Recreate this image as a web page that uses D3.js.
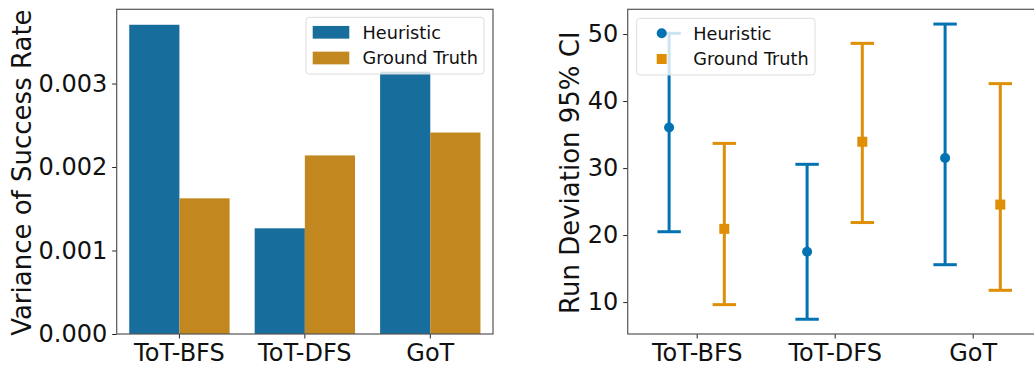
<!DOCTYPE html>
<html>
<head>
<meta charset="utf-8">
<script src="https://cdn.jsdelivr.net/npm/d3@7"></script>
<style>
  html, body { margin: 0; padding: 0; background: #fff; }
  svg { display: block; font-family: "DejaVu Sans", sans-serif; }
</style>
</head>
<body>
<svg id="chart" width="1034" height="366"></svg>
<script>
// Methods compared in both panels
const methods = ["ToT-BFS", "ToT-DFS", "GoT"];
const seriesNames = ["Heuristic", "Ground Truth"];

// Left panel: variance of success rate
const varHeuristic = [0.003704, 0.001266, 0.003142];
const varGroundTruth = [0.001625, 0.002139, 0.002413];
const varTicks = [0, 0.001, 0.002, 0.003];

// Right panel: run deviation mean with 95% CI
const devHeuristicMean = [36.06, 17.51, 31.5];
const devHeuristicLow = [20.5, 7.44, 15.58];
const devHeuristicHigh = [50.1, 30.56, 51.49];
const devGroundTruthMean = [20.93, 33.93, 24.55];
const devGroundTruthLow = [9.62, 21.87, 11.76];
const devGroundTruthHigh = [33.68, 48.61, 42.6];
const devTicks = [10, 20, 30, 40, 50];

const barColors = ["#176d9c", "#c2871f"];
const pointColors = ["#0173b2", "#de8f05"];
const spineColor = "#555";
const TICK = 4.5, TICK_PAD = 5;

const svg = d3.select("#chart");

function styleAxis(g) {
  g.selectAll(".domain").remove();
  g.selectAll(".tick line").attr("stroke", "#222").attr("stroke-width", 1);
  g.selectAll(".tick text").attr("fill", "#111").style("font-size", "24px")
    .style("font-family", "'DejaVu Sans', sans-serif");
}

function drawLegend(g, x, y, w, h, drawKey) {
  const lg = g.append("g").attr("transform", `translate(${x},${y})`);
  lg.append("rect").attr("width", w).attr("height", h).attr("rx", 3)
    .attr("fill", "#fff").attr("fill-opacity", 0.8)
    .attr("stroke", "#ddd").attr("stroke-width", 1);
  seriesNames.forEach((name, i) => {
    const cy = 15 + i * 25.7;
    drawKey(lg, i, cy);
    lg.append("text").attr("x", 56.5).attr("y", cy).attr("dy", "0.36em")
      .style("font-size", "17.7px").attr("fill", "#111").text(name);
  });
}

// ---------- Left panel: grouped bars ----------
{
  const L = 116.7, R = 493, T = 9.3, B = 334;
  const g = svg.append("g");
  const yMax = d3.max(varHeuristic.concat(varGroundTruth)) * 1.05;
  const y = d3.scaleLinear().domain([0, yMax]).range([B, T]);
  const x = d3.scaleBand().domain(methods).range([L, R]).paddingInner(0.2).paddingOuter(0.1);
  const xs = d3.scaleBand().domain(seriesNames).range([0, x.bandwidth()]);

  const rows = methods.map((m, i) => ({ m, vals: [varHeuristic[i], varGroundTruth[i]] }));
  rows.forEach(r => {
    r.vals.forEach((v, j) => {
      g.append("rect")
        .attr("x", x(r.m) + xs(seriesNames[j]))
        .attr("y", y(v))
        .attr("width", xs.bandwidth())
        .attr("height", B - y(v))
        .attr("fill", barColors[j]);
    });
  });

  const yAxis = g.append("g").attr("transform", `translate(${L},0)`)
    .call(d3.axisLeft(y).tickValues(varTicks).tickFormat(d3.format(".3f")).tickSize(TICK).tickPadding(TICK_PAD));
  styleAxis(yAxis);
  const xAxis = g.append("g").attr("transform", `translate(0,${B})`)
    .call(d3.axisBottom(x).tickSize(TICK).tickPadding(TICK_PAD));
  styleAxis(xAxis);

  g.append("rect").attr("x", L).attr("y", T).attr("width", R - L).attr("height", B - T)
    .attr("fill", "none").attr("stroke", spineColor).attr("stroke-width", 1.2);

  g.append("text").attr("transform", `translate(21.7,${(T + B) / 2 + 1}) rotate(-90)`)
    .attr("text-anchor", "middle").attr("dy", "0.36em")
    .style("font-size", "26px").attr("fill", "#111").text("Variance of Success Rate");

  drawLegend(g, 306, 17.3, 178, 56.7, (lg, i, cy) => {
    lg.append("rect").attr("x", 6.7).attr("y", cy - 6.35).attr("width", 36.6).attr("height", 12.7)
      .attr("fill", barColors[i]);
  });
}

// ---------- Right panel: point estimates with CI ----------
{
  const L = 627.7, T = 9.3, B = 334;
  const unit = 138;
  const R = L + unit * 3;
  const g = svg.append("g");
  const allVals = devHeuristicLow.concat(devHeuristicHigh, devGroundTruthLow, devGroundTruthHigh);
  const lo = d3.min(allVals), hi = d3.max(allVals), pad = (hi - lo) * 0.05;
  const y = d3.scaleLinear().domain([lo - pad, hi + pad]).range([B, T]);
  const x = d3.scalePoint().domain(methods).range([L + unit / 2, R - unit / 2]);
  const dodge = 0.2 * unit;

  const series = [
    { mean: devHeuristicMean, low: devHeuristicLow, high: devHeuristicHigh, off: -dodge, shape: "circle" },
    { mean: devGroundTruthMean, low: devGroundTruthLow, high: devGroundTruthHigh, off: dodge, shape: "square" }
  ];

  const plot = g.append("g");
  series.forEach((s, j) => {
    methods.forEach((m, i) => {
      const cx = x(m) + s.off;
      plot.append("line").attr("x1", cx).attr("x2", cx)
        .attr("y1", y(s.low[i])).attr("y2", y(s.high[i]))
        .attr("stroke", pointColors[j]).attr("stroke-width", 3);
      [s.low[i], s.high[i]].forEach(v => {
        plot.append("line").attr("x1", cx - 11.7).attr("x2", cx + 11.7)
          .attr("y1", y(v)).attr("y2", y(v))
          .attr("stroke", pointColors[j]).attr("stroke-width", 3);
      });
      if (s.shape === "circle") {
        plot.append("circle").attr("cx", cx).attr("cy", y(s.mean[i])).attr("r", 5)
          .attr("fill", pointColors[j]);
      } else {
        plot.append("rect").attr("x", cx - 5).attr("y", y(s.mean[i]) - 5)
          .attr("width", 10).attr("height", 10).attr("fill", pointColors[j]);
      }
    });
  });

  const yAxis = g.append("g").attr("transform", `translate(${L},0)`)
    .call(d3.axisLeft(y).tickValues(devTicks).tickSize(TICK).tickPadding(TICK_PAD));
  styleAxis(yAxis);
  const xAxis = g.append("g").attr("transform", `translate(0,${B})`)
    .call(d3.axisBottom(x).tickSize(TICK).tickPadding(TICK_PAD));
  styleAxis(xAxis);

  g.append("rect").attr("x", L).attr("y", T).attr("width", R - L).attr("height", B - T)
    .attr("fill", "none").attr("stroke", spineColor).attr("stroke-width", 1.2);

  g.append("text").attr("transform", `translate(570,${(T + B) / 2 + 1}) rotate(-90)`)
    .attr("text-anchor", "middle").attr("dy", "0.36em")
    .style("font-size", "26px").attr("fill", "#111").text("Run Deviation 95% CI");

  drawLegend(g, 636.7, 18.3, 178.3, 56.7, (lg, i, cy) => {
    if (i === 0) {
      lg.append("circle").attr("cx", 25).attr("cy", cy).attr("r", 5).attr("fill", pointColors[i]);
    } else {
      lg.append("rect").attr("x", 20).attr("y", cy - 5).attr("width", 10).attr("height", 10)
        .attr("fill", pointColors[i]);
    }
  });
}
</script>
</body>
</html>
